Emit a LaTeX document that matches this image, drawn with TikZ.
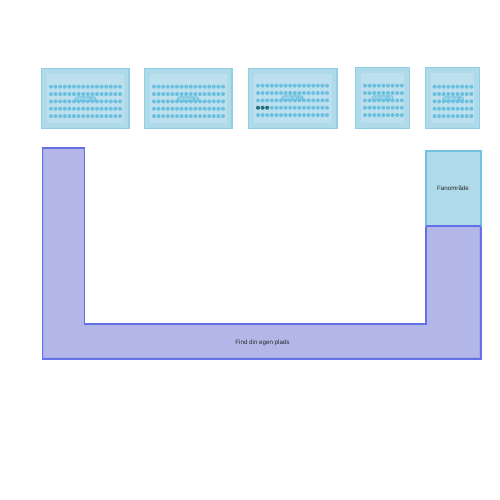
\documentclass[tikz,border=0pt]{standalone}
\usepackage{fontspec}
\setmainfont{Liberation Sans}
\definecolor{blockfill}{HTML}{AFDAE9}
\definecolor{blockline}{HTML}{8FD0E6}
\definecolor{innerfill}{HTML}{BDE0EE}
\definecolor{seatfill}{HTML}{6CC0DF}
\definecolor{seatdark}{HTML}{2A6E78}
\definecolor{labtext}{HTML}{D8F0F8}
\definecolor{standfill}{HTML}{B2B7E8}
\definecolor{standband}{HTML}{A6ACE8}
\definecolor{standline}{HTML}{6670E6}
\definecolor{fanfill}{HTML}{AFDAE9}
\definecolor{fanline}{HTML}{72C2DE}
\tikzset{
  x=1pt,y=-1pt,
  blockbox/.style={draw=blockline,fill=blockfill,line width=1.2pt},
  innerbox/.style={fill=innerfill},
  seatdot/.style={circle,fill=seatfill,minimum size=4pt,inner sep=0pt},
  darkdot/.style={circle,fill=seatdark,minimum size=4pt,inner sep=0pt},
  seclabel/.style={fill=seatfill,rounded corners=1.5pt,inner sep=0.8pt,text=labtext,font=\fontsize{4.6}{5}\selectfont},
  standbox/.style={draw=standline,fill=standfill,line width=1.1pt},
  standinner/.style={draw=standband,line width=1.2pt},
  fanbox/.style={draw=fanline,fill=fanfill,line width=1.1pt},
  areatext/.style={text=black!85,font=\fontsize{6.2}{7}\selectfont,inner sep=0pt}
}
% #1 left, #2 top, #3 right, #4 bottom, #5 first dot x, #6 first dot y, #7 columns-1, #8 label, #9 label x
\newcommand{\seatblock}[9]{
  \draw[blockbox] (#1,#2) rectangle (#3,#4);
  \fill[innerbox] (#1+5.5,#2+6) rectangle (#3-5.5,#4-6);
  \foreach \r in {0,...,4}{\foreach \c in {0,...,#7}{
    \node[seatdot] (s#8-\r-\c) at (#5+\c*4.6,#6+\r*7.35) {};
  }}
  \node[seclabel] (lab#8) at (#9,#6+12.2) {Sektion #8};
}
\begin{document}
\begin{tikzpicture}
\useasboundingbox (0,0) rectangle (500,500);
\fill[white] (0,0) rectangle (500,500);
\seatblock{41.5}{68.5}{129}{128.5}{51}{86.7}{15}{E}{85.5}
\seatblock{144.5}{68.5}{232}{128.5}{154}{86.7}{15}{D}{188}
\seatblock{248.5}{68.5}{337}{128.5}{258}{85.7}{15}{C}{292.5}
\seatblock{355.5}{67.5}{409.5}{128.5}{365}{85.7}{8}{B}{382.5}
\seatblock{425.5}{67.5}{479.5}{128.5}{434.5}{86.7}{8}{A}{453}
\node[darkdot] (d1) at (258,107.75) {};
\node[darkdot] (d2) at (262.6,107.75) {};
\node[darkdot] (d3) at (267.2,107.75) {};
\draw[standbox] (42.5,148) -- (84.5,148) -- (84.5,324) -- (426,324) -- (426,226) -- (481,226) -- (481,359) -- (42.5,359) -- cycle;
\draw[standinner] (43.8,149.3) -- (43.8,357.7) -- (479.7,357.7) -- (479.7,227.3);
\draw[fanbox] (426,151) rectangle (481,226);
\draw[standline,line width=1.1pt] (426,226) -- (481,226);
\node[areatext] (fan) at (453,188.2) {Fanområde};
\node[areatext] (find) at (262.5,342.6) {Find din egen plads};
\end{tikzpicture}
\end{document}
